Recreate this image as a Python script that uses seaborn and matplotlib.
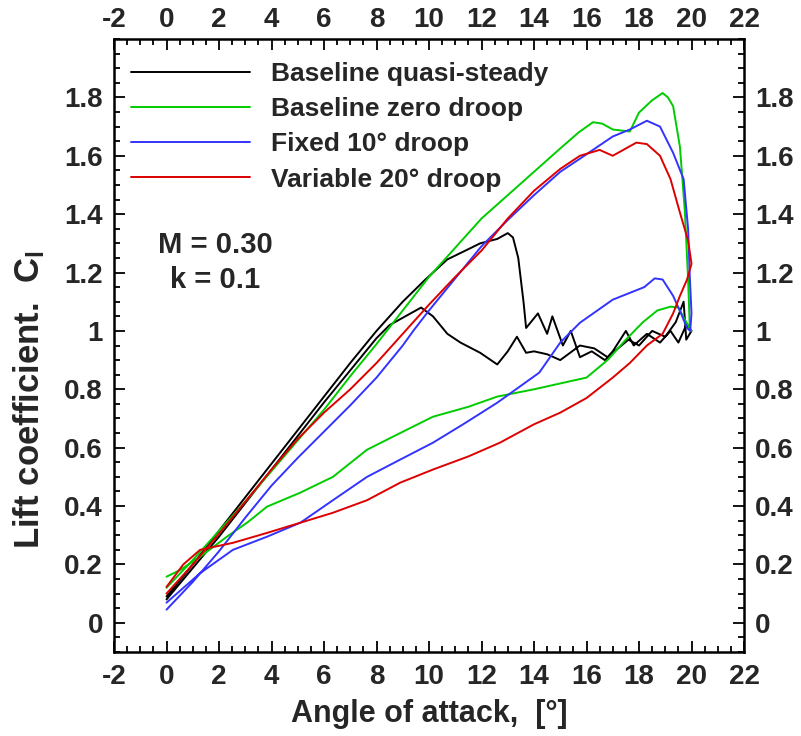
import numpy as np
import pandas as pd
import matplotlib
matplotlib.use("Agg")
import matplotlib.pyplot as plt
import seaborn as sns

# ---------------- data ----------------
series_names = ["Baseline quasi-steady", "Baseline zero droop",
                "Fixed 10° droop", "Variable 20° droop"]
series_colors = ["#000000", "#00cc00", "#3333ff", "#dd0000"]

alpha_qs = [0, 1, 2, 3, 4, 5, 6, 7, 8, 9, 9.85, 10.7, 11.5, 11.95, 12.6, 13.0,
            13.2, 13.4, 13.6, 13.7, 14.15, 14.5, 14.7, 15.1, 15.4, 15.75, 16.2,
            16.7, 17.2, 17.6, 18.0, 18.5, 19.0, 19.4, 19.7, 19.8, 20.0,
            19.8, 19.5, 19.2, 18.8, 18.3, 17.8, 17.5, 17.0, 16.8, 16.3, 15.75,
            15.3, 15.0, 14.5, 14.0, 13.7, 13.35, 13.0, 12.6, 11.95, 11.2, 10.7,
            10.15, 9.7, 9.3, 8.5, 8, 6, 4, 2, 0]
cl_qs = [0.09, 0.20, 0.315, 0.43, 0.545, 0.66, 0.775, 0.89, 1.0, 1.10, 1.175,
         1.245, 1.28, 1.30, 1.315, 1.335, 1.32, 1.25, 1.10, 1.01, 1.06, 0.99,
         1.05, 0.95, 1.00, 0.91, 0.93, 0.90, 0.94, 0.97, 0.95, 1.00, 0.98, 1.03,
         1.10, 0.97, 1.00,
         1.02, 0.96, 1.00, 0.96, 0.99, 0.95, 1.00, 0.93, 0.91, 0.94, 0.95,
         0.92, 0.90, 0.92, 0.93, 0.925, 0.98, 0.93, 0.885, 0.925, 0.96, 0.99,
         1.05, 1.08, 1.06, 1.02, 0.975, 0.755, 0.525, 0.295, 0.08]

alpha_zero = [0, 1, 2, 3, 4, 5, 6, 7, 8, 9, 10, 11, 12, 13, 14, 15, 15.7,
              16.25, 16.6, 17.0, 17.65, 18.0, 18.5, 18.9, 19.1, 19.3, 19.56,
              19.75, 19.87, 19.94, 20.0,
              19.8, 19.5, 19.2, 18.7, 18.15, 17.5, 16.8, 16.0, 15.0, 14.0, 12.6,
              11.5, 10.15, 8.9, 7.64, 6.34, 5.1, 3.83, 3.07, 2.3, 1.28, 0.5, 0]
cl_zero = [0.12, 0.215, 0.315, 0.415, 0.52, 0.625, 0.73, 0.845, 0.955, 1.07,
           1.185, 1.285, 1.385, 1.465, 1.545, 1.625, 1.68, 1.715, 1.71, 1.69,
           1.683, 1.748, 1.79, 1.815, 1.80, 1.77, 1.63, 1.405, 1.176, 1.0, 1.0,
           1.03, 1.08, 1.083, 1.07, 1.03, 0.97, 0.90, 0.84, 0.82, 0.80, 0.775,
           0.74, 0.706, 0.65, 0.593, 0.50, 0.446, 0.398, 0.343, 0.295, 0.226,
           0.18, 0.158]

alpha_fixed = [0, 1, 2, 3, 4, 5, 6, 7, 8, 9, 9.4, 10, 11, 12, 13, 14, 15,
               15.75, 17.0, 17.65, 18.3, 18.8, 19.3, 19.7, 19.87, 19.94,
               20.0, 19.95,
               19.83, 19.6, 19.3, 18.9, 18.6, 18.2, 17.0, 15.75, 15.0, 14.2,
               12.6, 11.3, 10.15, 8.9, 7.64, 6.34, 5.1, 3.83, 2.53, 1.28, 0]
cl_fixed = [0.045, 0.14, 0.245, 0.36, 0.47, 0.565, 0.655, 0.745, 0.84, 0.95,
            1.0, 1.07, 1.18, 1.29, 1.38, 1.465, 1.545, 1.59, 1.666, 1.69, 1.72,
            1.70, 1.61, 1.52, 1.35, 1.176, 1.06, 1.0,
            1.01, 1.06, 1.12, 1.176, 1.18, 1.15, 1.107, 1.028, 0.96, 0.857,
            0.754, 0.68, 0.617, 0.559, 0.50, 0.42, 0.343, 0.295, 0.25, 0.17,
            0.069]

alpha_var = [0, 1, 2, 3, 4, 5, 6, 7, 8, 9, 10, 11, 12, 13, 14, 15, 15.75,
             16.5, 17.0, 17.5, 17.9, 18.3, 18.8, 19.2, 19.56, 19.87, 20.0,
             19.83, 19.56, 19.3, 18.9, 18.3, 17.65, 17.0, 16.0, 15.0, 14.0,
             12.7, 11.5, 10.15, 8.9, 7.64, 6.34, 5.1, 3.83, 2.53, 1.28, 0.64, 0]
cl_var = [0.10, 0.20, 0.305, 0.415, 0.525, 0.63, 0.72, 0.80, 0.89, 0.99, 1.09,
          1.185, 1.275, 1.385, 1.48, 1.555, 1.60, 1.62, 1.60, 1.625, 1.645,
          1.64, 1.60, 1.52, 1.405, 1.31, 1.23,
          1.176, 1.12, 1.06, 0.99, 0.95, 0.89, 0.84, 0.77, 0.72, 0.68,
          0.617, 0.57, 0.525, 0.48, 0.42, 0.377, 0.343, 0.308, 0.274, 0.25,
          0.20, 0.123]

x_ticks = list(range(-2, 23, 2))
y_ticks = [0, 0.2, 0.4, 0.6, 0.8, 1.0, 1.2, 1.4, 1.6, 1.8]
y_tick_labels = ["0", "0.2", "0.4", "0.6", "0.8", "1", "1.2", "1.4", "1.6", "1.8"]

# ---------------- build table ----------------
frames = []
for name, a, c in zip(series_names,
                      [alpha_qs, alpha_zero, alpha_fixed, alpha_var],
                      [cl_qs, cl_zero, cl_fixed, cl_var]):
    frames.append(pd.DataFrame({"alpha": a, "cl": c, "case": name}))
df = pd.concat(frames, ignore_index=True)

# ---------------- style ----------------
sns.set_style("ticks")
plt.rcParams["font.family"] = ["Liberation Sans", "DejaVu Sans"]
plt.rcParams["font.weight"] = "bold"
plt.rcParams["axes.labelweight"] = "bold"
plt.rcParams["mathtext.default"] = "regular"
plt.rcParams["axes.unicode_minus"] = False

fig = plt.figure(figsize=(8.01, 7.36), dpi=100)
ax = fig.add_axes([114 / 801, 1 - 652 / 736, 630 / 801, 613 / 736])

sns.lineplot(data=df, x="alpha", y="cl", hue="case", hue_order=series_names,
             palette=series_colors, sort=False, estimator=None, lw=1.4,
             ax=ax, legend=True)

ax.set_xlim(-2, 22)
ax.set_ylim(-0.1, 2.0)

ax.set_xticks(x_ticks)
ax.set_xticks(np.arange(-2, 22.01, 0.5), minor=True)
ax.set_yticks(y_ticks)
ax.set_yticklabels(y_tick_labels)
ax.set_yticks(np.arange(-0.1, 2.001, 0.05), minor=True)

fs_tick = 20
ax.tick_params(which="both", direction="in", top=True, right=True,
               labeltop=False, labelright=False, width=1.3, color="black")
ax.tick_params(which="major", length=8)
ax.tick_params(which="minor", length=4.5)
ax.tick_params(axis="x", which="major", labelsize=fs_tick, pad=9)
ax.tick_params(axis="y", which="major", labelsize=fs_tick, pad=8)

# top and right labels
secx = ax.secondary_xaxis("top")
secx.set_xticks(x_ticks)
secx.tick_params(direction="in", length=0, labelsize=fs_tick, pad=4)
secy = ax.secondary_yaxis("right")
secy.set_yticks(y_ticks)
secy.set_yticklabels(y_tick_labels)
secy.tick_params(direction="in", length=0, labelsize=fs_tick, pad=8)
for s in list(secx.spines.values()) + list(secy.spines.values()):
    s.set_visible(False)

for lab in ax.get_xticklabels() + ax.get_yticklabels() + \
        secx.get_xticklabels() + secy.get_yticklabels():
    lab.set_fontweight("bold")

for s in ax.spines.values():
    s.set_linewidth(1.8)
    s.set_color("black")

ax.set_xlabel("Angle of attack,  [°]", fontsize=22, fontweight="bold", labelpad=6)
ax.set_ylabel("Lift coefficient.  C$_l$", fontsize=25, fontweight="bold")
ax.yaxis.set_label_coords(-0.106, 0.412)

handles, labels = ax.get_legend_handles_labels()
ax.legend(handles, labels, loc="upper left", bbox_to_anchor=(0.027, 0.962),
          frameon=False, handlelength=4.5, handletextpad=0.8,
          labelspacing=0.42, borderpad=0, borderaxespad=0,
          prop={"weight": "bold", "size": 19})

ax.text(1.85, 1.296, "M = 0.30", ha="center", va="center", fontsize=21,
        fontweight="bold")
ax.text(1.85, 1.176, "k = 0.1", ha="center", va="center", fontsize=21,
        fontweight="bold")

fig.savefig("out.png", dpi=100)
